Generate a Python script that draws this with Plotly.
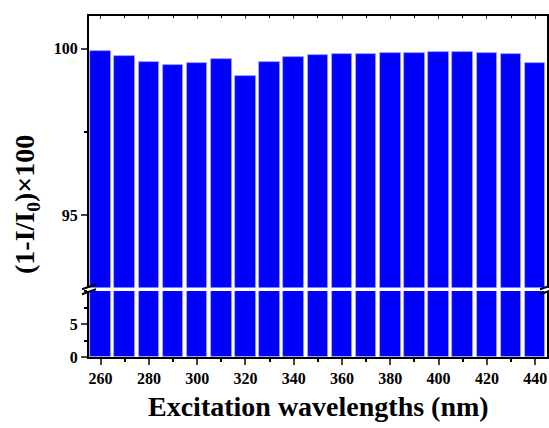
import plotly.graph_objects as go

wavelengths = [260, 270, 280, 290, 300, 310, 320, 330, 340, 350, 360, 370, 380, 390, 400, 410, 420, 430, 440]
quench = [99.92, 99.77, 99.59, 99.50, 99.57, 99.70, 99.17, 99.59, 99.74, 99.82, 99.83, 99.84, 99.86, 99.88, 99.91, 99.90, 99.88, 99.84, 99.56]
x_ticks = [260, 280, 300, 320, 340, 360, 380, 400, 420, 440]
low_ticks = [0, 5]
high_ticks = [95, 100]

W, H = 549, 428
L, R, T, B = 89, 2, 16, 71
pw, ph = W - L - R, H - T - B

def px(x):
    return (x - L) / pw

def py(y):
    return (H - B - y) / ph

low_dom = [0, py(291)]
high_dom = [py(287.5), 1]

font = "Liberation Serif"
tf = dict(family=font, size=16, color="black", weight="bold")

fig = go.Figure()
for ya in ["y", "y2"]:
    fig.add_trace(go.Bar(
        x=wavelengths, y=quench, width=8.5,
        marker=dict(color="#0000FF", line=dict(color="#aaaaff", width=0.8)),
        xaxis="x" if ya == "y" else "x2", yaxis=ya, showlegend=False,
    ))

xcommon = dict(range=[255.2, 444.9], linecolor="black", linewidth=2, showgrid=False, zeroline=False)
fig.update_layout(
    width=W, height=H,
    margin=dict(l=L, r=R, t=T, b=B, autoexpand=False),
    plot_bgcolor="white", paper_bgcolor="white",
    bargap=0,
    xaxis=dict(**xcommon, anchor="y", showline=True, ticks="outside", ticklen=6, tickwidth=2,
               tickvals=x_ticks, tickfont=tf,
               minor=dict(dtick=10, tick0=260, ticks="outside", ticklen=3, tickwidth=2, tickcolor="black")),
    xaxis2=dict(**xcommon, anchor="y2", matches="x", side="top", showline=True, showticklabels=False,
                ticks="inside", ticklen=3, tickwidth=1, tickvals=x_ticks,
                minor=dict(dtick=10, tick0=260, ticks="inside", ticklen=2, tickwidth=1, tickcolor="black")),
    yaxis=dict(domain=low_dom, range=[0, 10], showline=True, linecolor="black", linewidth=2,
               mirror="allticks", ticks="outside", ticklen=6, tickwidth=2, tickvals=low_ticks,
               tickfont=tf, showgrid=False, zeroline=False,
               minor=dict(dtick=2.5, ticks="outside", ticklen=3, tickwidth=2, tickcolor="black")),
    yaxis2=dict(domain=high_dom, range=[92.82, 100.98], showline=True, linecolor="black", linewidth=2,
                mirror="allticks", ticks="outside", ticklen=6, tickwidth=2, tickvals=high_ticks,
                tickfont=tf, showgrid=False, zeroline=False, anchor="x2",
                minor=dict(dtick=2.5, tick0=92.5, ticks="outside", ticklen=3, tickwidth=2, tickcolor="black")),
)

# axis break marks
shapes = []
for cx in [L, L + pw]:
    for cy in [286.8, 291.8]:
        shapes.append(dict(type="line", xref="paper", yref="paper",
                           x0=px(cx - 7), y0=py(cy + 2.5), x1=px(cx + 7), y1=py(cy - 2.5),
                           line=dict(color="black", width=2)))
fig.update_layout(shapes=shapes)

fig.add_annotation(text="(1-I/I<sub>0</sub>)×100", xref="paper", yref="paper",
                   x=px(27), y=py(204), textangle=-90, showarrow=False,
                   xanchor="center", yanchor="middle",
                   font=dict(family=font, size=28, color="black", weight="bold"))
fig.add_annotation(text="Excitation wavelengths (nm)", xref="paper", yref="paper",
                   x=px(318), y=py(406), showarrow=False,
                   xanchor="center", yanchor="middle",
                   font=dict(family=font, size=28, color="black", weight="bold"))

fig.write_html("out.html", config={"displayModeBar": False},
               post_script="document.body.style.margin='0';")
